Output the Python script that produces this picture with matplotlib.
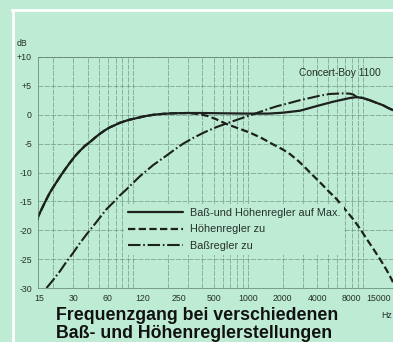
import matplotlib
matplotlib.use("Agg")
import matplotlib.pyplot as plt
import matplotlib.transforms as mtransforms
from matplotlib.lines import Line2D
import numpy as np

# Frequenzgang, Werte in dB
f_max = [14.6, 14.8, 16.9, 18.7, 20.7, 23, 25.3, 28, 30.9, 34, 37.8, 42, 46.1,
         51, 56.4, 62, 69, 76, 84.3, 93, 103, 114, 126, 150, 180, 220, 300,
         400, 600, 1000, 1500, 2000, 2830, 3955, 5480, 7710, 8830, 10000,
         11530, 13000, 14970, 16500, 18280]
db_max = [-18.2, -17.6, -15.2, -13.5, -12.1, -10.7, -9.5, -8.3, -7.2, -6.3,
          -5.4, -4.7, -4.0, -3.3, -2.7, -2.2, -1.8, -1.4, -1.1, -0.85, -0.65,
          -0.45, -0.25, 0.0, 0.15, 0.25, 0.3, 0.3, 0.25, 0.2, 0.2, 0.35, 0.7,
          1.5, 2.25, 2.9, 3.05, 2.9, 2.5, 2.1, 1.65, 1.2, 0.8]

f_hoehen = [14.6, 14.8, 16.9, 18.7, 20.7, 23, 25.3, 28, 30.9, 34, 37.8, 42,
            46.1, 51, 56.4, 62, 69, 76, 84.3, 93, 103, 114, 126, 150, 180,
            220, 300, 380, 450, 530, 649, 820, 1037, 1300, 1656, 2000, 2312,
            2700, 3020, 3500, 4227, 5000, 5900, 7000, 8240, 9500, 10790,
            12400, 14100, 16000, 17800, 18280]
db_hoehen = [-18.2, -17.6, -15.2, -13.5, -12.1, -10.7, -9.5, -8.3, -7.2, -6.3,
             -5.4, -4.7, -4.0, -3.3, -2.7, -2.2, -1.8, -1.4, -1.1, -0.85,
             -0.65, -0.45, -0.25, 0.0, 0.15, 0.25, 0.3, 0.1, -0.25, -0.8,
             -1.6, -2.35, -3.1, -4.0, -5.15, -6.0, -6.8, -7.9, -8.8, -10.1,
             -11.7, -13.2, -14.6, -16.4, -18.1, -19.8, -21.5, -23.3, -25.0,
             -26.8, -28.5, -29.0]

f_bass = [17.5, 20, 22.9, 26, 29.9, 34, 39.1, 45, 51.1, 58, 66.7, 76, 87.3,
          100, 114, 130, 149, 170, 195, 230, 272, 340, 420, 520, 649, 820,
          1037, 1250, 1450, 1800, 2312, 2800, 3456, 4200, 5170, 6750, 7700,
          8240, 8830, 10000, 11530, 13000, 14970, 16500, 18280]
db_bass = [-30.0, -28.6, -27.1, -25.5, -23.9, -22.3, -20.7, -19.2, -17.8,
           -16.4, -15.2, -14.0, -12.9, -11.75, -10.65, -9.7, -8.7, -7.9, -7.05,
           -6.0, -5.0, -3.9, -3.0, -2.2, -1.5, -0.8, -0.1, 0.45, 0.9, 1.5,
           2.05, 2.5, 2.9, 3.3, 3.6, 3.7, 3.65, 3.5, 3.1, 2.9, 2.5, 2.1,
           1.65, 1.2, 0.8]

x_ticks = [15, 30, 60, 120, 250, 500, 1000, 2000, 4000, 8000, 15000]
y_ticks = [10, 5, 0, -5, -10, -15, -20, -25, -30]
y_labels = ["+10", "+5", "0", "-5", "-10", "-15", "-20", "-25", "-30"]
raster = [20, 30, 40, 50, 60, 70, 80, 90, 100, 200, 300, 400, 500, 600, 700,
          800, 900, 1000, 2000, 3000, 4000, 5000, 6000, 7000, 8000, 9000, 10000]

bg = "#bdebd3"
ink = "#1c211e"
txt = "#26302b"
gridc = "#587868"

plt.rcParams["font.family"] = ["Liberation Sans", "DejaVu Sans"]

fig = plt.figure(figsize=(3.93, 3.42), dpi=100, facecolor=bg)
ax = fig.add_axes([37.5 / 393, 54 / 342, 1 - 37.5 / 393, 231 / 342])
ax.set_facecolor(bg)

ax.plot(f_max, db_max, color=ink, lw=1.6, solid_capstyle="round",
        label="Baß-und Höhenregler auf Max.")
ax.plot(f_hoehen, db_hoehen, color=ink, lw=1.6, linestyle=(0, (3.3, 1.5)),
        label="Höhenregler zu")
ax.plot(f_bass, db_bass, color=ink, lw=1.5, linestyle=(0, (6, 1.3, 0.8, 1.3)),
        label="Baßregler zu")

ax.set_xscale("log")
ax.set_xlim(14.6, 18300)
ax.set_ylim(-30, 10)

ax.set_xticks(x_ticks)
ax.set_xticklabels([str(v) for v in x_ticks])
ax.xaxis.set_minor_locator(matplotlib.ticker.NullLocator())
ax.set_yticks(y_ticks)
ax.set_yticklabels(y_labels)
ax.tick_params(which="both", length=0, labelsize=6.3, colors=txt, pad=4)

# letzte Beschriftung etwas nach links, damit sie ins Bild passt
shift = mtransforms.ScaledTranslation(-3 / 72, 0, fig.dpi_scale_trans)
last = ax.get_xticklabels()[-1]
last.set_transform(last.get_transform() + shift)

# Raster
for v in raster:
    ax.axvline(v, color=gridc, lw=0.6, alpha=0.6, ls=(0, (6, 1.5)), zorder=0)
for v in y_ticks:
    ax.axhline(v, color=gridc, lw=0.6, alpha=0.6, ls=(0, (6, 1.5)), zorder=0)
for side in ["left", "top", "bottom"]:
    ax.spines[side].set_color(gridc)
    ax.spines[side].set_linewidth(0.6)
    ax.spines[side].set_alpha(0.8)
ax.spines["right"].set_visible(False)

leg = ax.legend(loc="upper left", bbox_to_anchor=(124 / 393, 1 - 204 / 342),
                bbox_transform=fig.transFigure, borderaxespad=0, borderpad=0.35,
                fontsize=7.8, handlelength=5.1, handletextpad=0.65,
                labelspacing=0.6, frameon=True, fancybox=False)
leg.get_frame().set_facecolor(bg)
leg.get_frame().set_edgecolor("none")
leg.get_frame().set_alpha(1)
for t in leg.get_texts():
    t.set_color(txt)

fig.text(22 / 393, 1 - 44 / 342, "dB", fontsize=6.3, color=txt,
         ha="center", va="center")
fig.text(340 / 393, 1 - 73 / 342, "Concert-Boy 1100", fontsize=7.4,
         color=txt, ha="center", va="center")
fig.text(392 / 393, 1 - 315 / 342, "Hz", fontsize=6.3, color=txt,
         ha="right", va="center")

fig.text(56 / 393, 1 - 316 / 342, "Frequenzgang bei verschiedenen",
         fontsize=12.8, fontweight="bold", color="#111", ha="left", va="center")
fig.text(56 / 393, 1 - 333 / 342, "Baß- und Höhenreglerstellungen",
         fontsize=12.8, fontweight="bold", color="#111", ha="left", va="center")

# weißer Rahmen
fig.add_artist(Line2D([12 / 393, 1], [1 - 10 / 342, 1 - 10 / 342],
                      transform=fig.transFigure, color="white", lw=2))
fig.add_artist(Line2D([13 / 393, 13 / 393], [0, 1 - 10 / 342],
                      transform=fig.transFigure, color="white", lw=2))

fig.savefig("out.png", dpi=100, facecolor=bg)
